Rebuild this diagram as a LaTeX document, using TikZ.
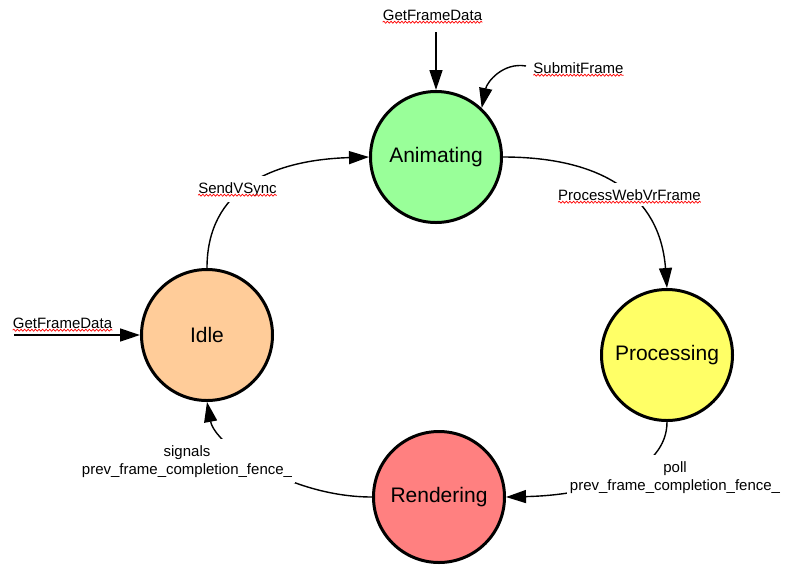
\documentclass[tikz,border=0pt]{standalone}
\usepackage{fontspec}
\setmainfont{Liberation Sans}
\usetikzlibrary{arrows.meta,decorations.pathmorphing}
\definecolor{animc}{HTML}{99FF99}
\definecolor{procc}{HTML}{FFFF66}
\definecolor{rendc}{HTML}{FF8080}
\definecolor{idlec}{HTML}{FFCC99}
\newcommand\lblfont{\fontsize{15}{18}\selectfont}
\newlength\prevw
\pgfdeclarelayer{back}
\pgfdeclarelayer{wbox}
\pgfsetlayers{back,wbox,main}
\begin{document}
\begin{tikzpicture}[x=1pt,y=-1pt,
  state/.style={circle, draw=black, line width=3pt, minimum size=131pt, inner sep=0pt, font=\fontsize{21}{24}\selectfont},
  lbl/.style={inner sep=0pt, font=\lblfont},
  lblcut/.style={lbl, inner xsep=3pt, inner ysep=6pt},
  conn/.style={line width=1.4pt, -{Triangle[length=20pt,width=13pt]}},
  squig/.style={red, line width=0.7pt, decorate, decoration={snake, amplitude=1pt, segment length=3.6pt}}]
\settowidth\prevw{\lblfont prev}
\useasboundingbox (0,0) rectangle (793,566);
% states
\node[state, fill=animc] (anim) at (436,157) {Animating};
\node[state, fill=procc] (proc) at (667,355) {Processing};
\node[state, fill=rendc] (rend) at (439,497) {Rendering};
\node[state, fill=idlec] (idle) at (207,335) {Idle};
% free ends
\coordinate (gtop) at (436,32);
\coordinate (sfs) at (526,66);
\coordinate (gleft) at (14,335);
% connectors
\begin{pgfonlayer}{back}
\draw[conn] (gtop) -- (anim.north);
\draw[conn] (sfs) .. controls (503,62) and (487,82) .. (anim.47);
\draw[conn] (gleft) -- (idle.west);
\draw[conn] (idle.north) .. controls (207,190) and (270,160) .. (anim.west);
\draw[conn] (anim.east) .. controls (602,157) and (660,195) .. (proc.north);
\draw[conn] (proc.south) .. controls (667,470) and (600,495) .. (rend.east);
\draw[conn] (rend.west) .. controls (290,497) and (215,445) .. (idle.south);
\end{pgfonlayer}
% labels
\node[lbl, anchor=base] (gfdtop) at (432.5,20) {GetFrameData};
\node[lbl, anchor=base] (submit) at (578.5,73) {SubmitFrame};
\node[lbl, anchor=base] (gfdleft) at (62.5,328) {GetFrameData};
\node[lblcut, anchor=base] (vsync) at (237.5,193) {SendVSync};
\node[lblcut, anchor=base] (pwvf) at (629.5,200) {ProcessWebVrFrame};
\node[lblcut, anchor=base] (sig1) at (187,456) {signals};
\node[lblcut, anchor=base] (sig2) at (187,474) {prev\_frame\_completion\_fence\_};
\node[lblcut, anchor=base] (poll1) at (675,472) {poll};
\node[lblcut, anchor=base] (poll2) at (675,490) {prev\_frame\_completion\_fence\_};
% white boxes that interrupt connectors
\begin{pgfonlayer}{wbox}
\foreach \n in {vsync,pwvf}{
  \fill[white] (\n.south west) rectangle (\n.north east);
}
\fill[white] (sig2.south west) rectangle (sig2.east |- sig1.north);
\fill[white] (poll2.south west) rectangle (poll2.east |- poll1.north);
\end{pgfonlayer}
% spell-check underlines
\foreach \n/\s in {gfdtop/0pt,submit/0pt,gfdleft/0pt,vsync/3pt,pwvf/3pt}{
  \draw[squig] ([xshift=\s,yshift=-2.2pt]\n.base west) -- ([xshift=-\s,yshift=-2.2pt]\n.base east);
}
\draw[squig] ([xshift=3pt,yshift=-2.2pt]sig2.base west) -- ++(\prevw,0);
\draw[squig] ([xshift=3pt,yshift=-2.2pt]poll2.base west) -- ++(\prevw,0);
\end{tikzpicture}
\end{document}
